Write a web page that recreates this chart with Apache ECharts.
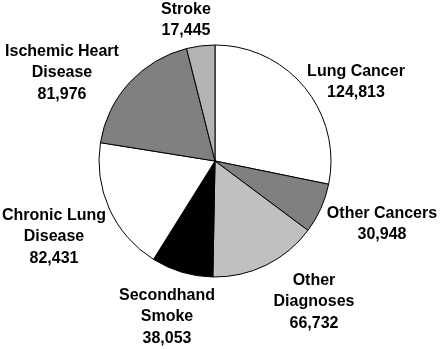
<!DOCTYPE html>
<html><head><meta charset="utf-8">
<script src="https://cdn.jsdelivr.net/npm/echarts@6/dist/echarts.min.js"></script>
<style>html,body{margin:0;padding:0;background:#fff}#c{width:441px;height:349px}</style>
</head><body><div id="c"></div>
<script>
const categories = ['Lung Cancer','Other Cancers','Other Diagnoses','Secondhand Smoke','Chronic Lung Disease','Ischemic Heart Disease','Stroke'];
const labelTexts = ['Lung Cancer','Other Cancers','Other\nDiagnoses','Secondhand\nSmoke','Chronic Lung\nDisease','Ischemic Heart\nDisease','Stroke'];
const values = [124813, 30948, 66732, 38053, 82431, 81976, 17445];
const colors = ['#ffffff','#808080','#c0c0c0','#000000','#ffffff','#808080','#b3b3b3'];
const labelPos = [[356,82],[382,224],[314,302],[167,317],[54,237],[62,73],[186,20]];

const chart = echarts.init(document.getElementById('c'), null, {renderer:'canvas'});
chart.setOption({
  animation:false,
  backgroundColor:'#fff',
  series:[{
    type:'pie',
    center:[215,161],
    radius:[0,116],
    startAngle:90,
    clockwise:true,
    avoidLabelOverlap:false,
    itemStyle:{borderColor:'#000',borderWidth:1},
    label:{
      show:true,position:'outside',
      fontFamily:'Liberation Sans, Arial, sans-serif',fontWeight:'bold',fontSize:16,
      lineHeight:21.5,color:'#000',align:'center',
      formatter:p=>labelTexts[p.dataIndex]+'\n'+p.value.toLocaleString('en-US')
    },
    labelLine:{show:false},
    labelLayout:p=>({x:labelPos[p.dataIndex][0],y:labelPos[p.dataIndex][1],align:'center',verticalAlign:'middle'}),
    emphasis:{disabled:true},
    data:categories.map((c,i)=>({name:c,value:values[i],itemStyle:{color:colors[i]}}))
  }]
});
</script></body></html>
